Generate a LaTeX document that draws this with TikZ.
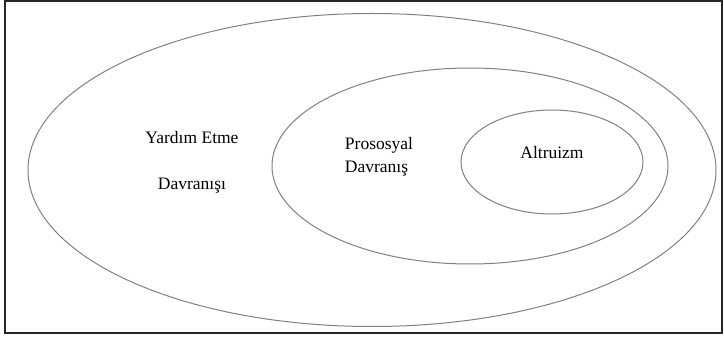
\documentclass[tikz,border=0pt]{standalone}
\usepackage{fontspec}
\setmainfont{Liberation Serif}
\usetikzlibrary{shapes.geometric}
\tikzstyle{circleset} = [ellipse, draw=black!50, line width=1pt, inner sep=0pt]
\tikzstyle{label} = [align=center, font=\fontsize{17.5}{23}\selectfont, text=black]
\tikzstyle{frame} = [draw=black!85, line width=1.4pt]

\begin{document}
\begin{tikzpicture}[x=1pt, y=-1pt]
\useasboundingbox (0,0) rectangle (724,339);
\draw [frame] (5,1) rectangle (722,333);

\node (help) [circleset, minimum width=688pt, minimum height=313pt] at (372,170) {};
\node (prosocial) [circleset, minimum width=396pt, minimum height=196pt] at (470,166) {};
\node (altruism) [circleset, minimum width=182pt, minimum height=104pt] at (552,162) {};

\node (helptext) [label] at (192,162) {Yardım Etme\\[23pt]Davranışı};
\node (prosocialtext) [label, align=left] at (379,157) {Prososyal\\Davranış};
\node (altruismtext) [label] at (552,153) {Altruizm};
\end{tikzpicture}
\end{document}
